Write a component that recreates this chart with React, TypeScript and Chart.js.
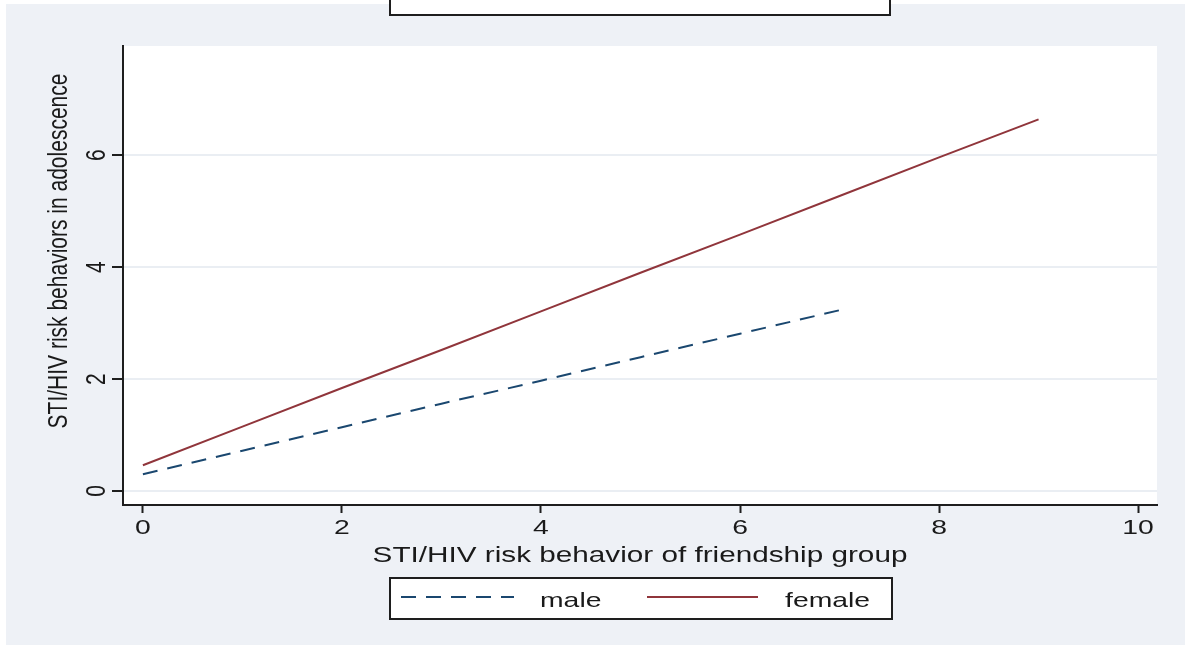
import React, { useEffect, useRef } from 'react';
import { Chart, registerables } from 'chart.js';

Chart.register(...registerables);

// ---- data ----
const maleX = [0, 1, 2, 3, 4, 5, 6, 7];
const maleY = [0.3, 0.72, 1.14, 1.56, 1.97, 2.39, 2.81, 3.23];
const femaleX = [0, 1, 2, 3, 4, 5, 6, 7, 8, 9];
const femaleY = [0.46, 1.15, 1.84, 2.52, 3.21, 3.9, 4.58, 5.27, 5.96, 6.64];
const xTicks = [0, 2, 4, 6, 8, 10];
const yTicks = [0, 2, 4, 6];
const seriesLabels = ['male', 'female'];
const xTitle = 'STI/HIV risk behavior of friendship group';
const yTitle = 'STI/HIV risk behaviors in adolescence';

// ---- styles ----
const BG = 'rgb(238,241,246)';
const GRID = 'rgb(234,238,243)';
const AXIS = '#1e1e1e';
const TEXT = '#1a1a1a';
const NAVY = 'rgb(26,71,111)';
const MAROON = 'rgb(144,53,59)';
const FAMILY = '"Liberation Sans", Arial, sans-serif';
const SX = 1.35; // horizontal stretch of the reference's lettering

function stretchedText(
  ctx: CanvasRenderingContext2D,
  text: string,
  x: number,
  y: number,
  align: CanvasTextAlign,
  size: number,
  rotate = false
) {
  ctx.save();
  ctx.translate(x, y);
  ctx.scale(SX, 1);
  if (rotate) ctx.rotate(-Math.PI / 2);
  ctx.font = `${size}px ${FAMILY}`;
  ctx.fillStyle = TEXT;
  ctx.textAlign = align;
  ctx.textBaseline = 'alphabetic';
  ctx.fillText(text, 0, 0);
  ctx.restore();
}

const framePlugin = {
  id: 'frame',
  beforeDraw(chart: any) {
    const { ctx, chartArea: a } = chart;
    ctx.save();
    ctx.fillStyle = '#fff';
    ctx.fillRect(0, 0, chart.width, chart.height);
    ctx.fillStyle = BG;
    ctx.fillRect(6, 4, chart.width - 6, chart.height - 5);
    ctx.fillStyle = '#fff';
    ctx.fillRect(a.left, a.top, a.right - a.left, a.bottom - a.top);
    // empty (cut-off) title box at top
    const cx = (a.left + a.right) / 2;
    ctx.fillRect(cx - 250, -4, 500, 19);
    ctx.strokeStyle = AXIS;
    ctx.lineWidth = 2;
    ctx.strokeRect(cx - 250, -4, 500, 19);
    ctx.restore();
  },
  afterDraw(chart: any) {
    const { ctx, chartArea: a, scales } = chart;
    const cx = (a.left + a.right) / 2;
    // tick labels
    xTicks.forEach((v) => {
      stretchedText(ctx, String(v), scales.x.getPixelForValue(v), a.bottom + 29, 'center', 21);
    });
    yTicks.forEach((v) => {
      stretchedText(ctx, String(v), a.left - 18, scales.y.getPixelForValue(v), 'center', 21, true);
    });
    // axis titles
    stretchedText(ctx, xTitle, cx, a.bottom + 57, 'center', 22);
    stretchedText(ctx, yTitle, 67, 251, 'center', 21, true);

    // legend
    const left = cx - 250;
    const top = 578;
    ctx.save();
    ctx.fillStyle = '#fff';
    ctx.fillRect(left, top, 502, 41);
    ctx.strokeStyle = AXIS;
    ctx.lineWidth = 2;
    ctx.strokeRect(left, top, 502, 41);
    const ly = top + 19;
    ctx.strokeStyle = NAVY;
    ctx.lineWidth = 2;
    ctx.setLineDash([15, 10]);
    ctx.beginPath();
    ctx.moveTo(left + 11, ly);
    ctx.lineTo(left + 124, ly);
    ctx.stroke();
    ctx.setLineDash([]);
    ctx.strokeStyle = MAROON;
    ctx.beginPath();
    ctx.moveTo(left + 257, ly);
    ctx.lineTo(left + 368, ly);
    ctx.stroke();
    ctx.restore();
    stretchedText(ctx, seriesLabels[0], left + 150, top + 29, 'left', 21);
    stretchedText(ctx, seriesLabels[1], left + 395, top + 29, 'left', 21);
  },
};

export default function App() {
  const ref = useRef<HTMLCanvasElement>(null);
  useEffect(() => {
    if (!ref.current) return;
    const chart = new Chart(ref.current, {
      type: 'line',
      data: {
        datasets: [
          {
            label: seriesLabels[0],
            data: maleX.map((x, i) => ({ x, y: maleY[i] })),
            borderColor: NAVY,
            borderWidth: 2,
            borderDash: [15, 10],
            pointRadius: 0,
            fill: false,
          },
          {
            label: seriesLabels[1],
            data: femaleX.map((x, i) => ({ x, y: femaleY[i] })),
            borderColor: MAROON,
            borderWidth: 2,
            pointRadius: 0,
            fill: false,
          },
        ],
      },
      options: {
        animation: false,
        responsive: false,
        devicePixelRatio: 1,
        layout: { padding: { left: 38, top: 46, right: 28, bottom: 81 } },
        plugins: { legend: { display: false }, tooltip: { enabled: false } },
        scales: {
          x: {
            type: 'linear',
            min: -0.2,
            max: 10.19,
            afterBuildTicks: (s: any) => {
              s.ticks = xTicks.map((v) => ({ value: v }));
            },
            afterFit: (s: any) => {
              s.height = 60;
            },
            grid: {
              drawOnChartArea: false,
              tickLength: 8,
              tickColor: AXIS,
              tickWidth: 2,
            },
            border: { display: true, color: AXIS, width: 2 },
            ticks: { display: false, autoSkip: false },
            title: { display: false },
          },
          y: {
            type: 'linear',
            min: -0.25,
            max: 7.95,
            afterBuildTicks: (s: any) => {
              s.ticks = yTicks.map((v) => ({ value: v }));
            },
            afterFit: (s: any) => {
              s.width = 85;
            },
            grid: {
              color: GRID,
              lineWidth: 2,
              tickLength: 11,
              tickColor: AXIS,
              tickWidth: 2,
            },
            border: { display: true, color: AXIS, width: 2 },
            ticks: { display: false, autoSkip: false },
            title: { display: false },
          },
        },
      },
      plugins: [framePlugin],
    } as any);
    return () => chart.destroy();
  }, []);
  return (
    <div style={{ position: 'fixed', left: 0, top: 0, width: 1185, height: 646 }}>
      <canvas ref={ref} width={1185} height={646} />
    </div>
  );
}
